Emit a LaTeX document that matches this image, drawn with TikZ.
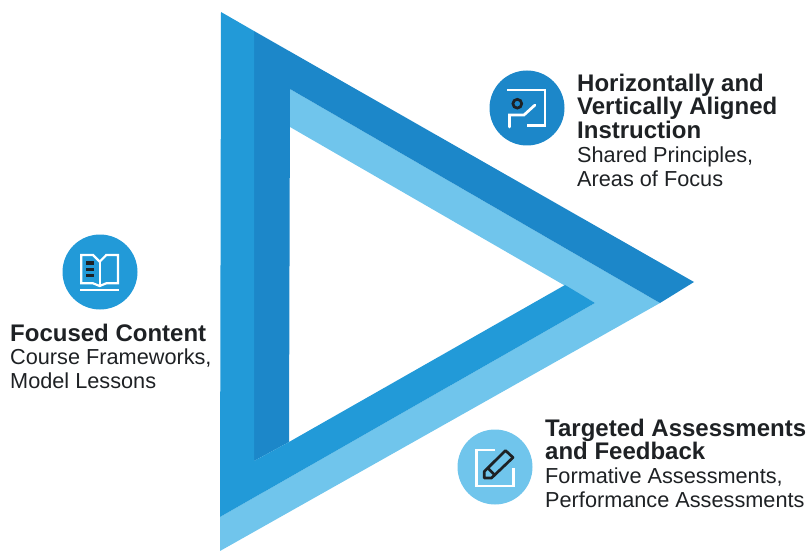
\documentclass[tikz,border=0pt]{standalone}
\usepackage{fontspec}
\setmainfont{Liberation Sans}
\usepackage{xcolor}
\usetikzlibrary{positioning}

\definecolor{bandDark}{HTML}{1C87C9}
\definecolor{bandMid}{HTML}{229AD8}
\definecolor{bandLight}{HTML}{70C5EC}
\definecolor{inkDark}{HTML}{1E2124}

\newcommand{\headline}[1]{{\fontsize{24}{23.8}\selectfont\bfseries #1}}

\begin{document}
\begin{tikzpicture}[
  x=1pt, y=-1pt,
  badge/.style={circle, minimum size=75pt, inner sep=0pt},
  caption/.style={
    anchor=north west,
    align=left,
    inner sep=0pt,
    text=inkDark,
    font=\fontsize{21.7}{23.8}\selectfont
  },
  iconline/.style={white, line width=2.7pt},
  iconink/.style={inkDark, line width=2.7pt}
]
\useasboundingbox (0,0) rectangle (807,551);

% ================= triangle bands =================
\fill[bandLight] (290,89) -- (660,303) -- (220,551) -- (220,517) -- (595,303) -- (290,127) -- cycle;
\fill[bandDark] (254,31) -- (694,282) -- (660,303) -- (290,89) -- (289,442) -- (254,461) -- cycle;
\fill[bandMid] (221,12) -- (254,31) -- (254,461) -- (289,442) -- (565,285) -- (595,303) -- (220,517) -- cycle;

% ================= badges =================
\node[badge, fill=bandMid] (book_badge) at (100,272) {};
\node[badge, fill=bandDark] (switch_badge) at (527,108) {};
\node[badge, fill=bandLight] (pencil_badge) at (495,467) {};

% book icon
\draw[iconline, line width=2.2pt] (99.7,286) -- (93,283.3) -- (81.3,283.3) -- (81.3,255) -- (93,255) -- (99.7,261.7) -- (106.3,255) -- (118,255) -- (118,283.3) -- (106.3,283.3) -- cycle;
\draw[iconline, line width=2.2pt] (99.7,261.7) -- (99.7,286);
\draw[iconline] (80,290) -- (119,290);
\foreach \y in {263,269.3,275.5}
  \draw[iconink, line width=3.2pt] (86,\y) -- (94,\y);

% switch icon
\draw[iconline] (507,90) -- (545,90) -- (545,125.5) -- (527,125.5);
\draw[iconline, line cap=round] (509.5,127) -- (509.5,115) -- (524,115) -- (535,105);
\draw[iconink] (517.3,103.7) circle (4.4);

% pencil icon
\draw[iconline] (494.7,450) -- (476.3,450) -- (476.3,486) -- (513.5,486) -- (513.5,468);
\draw[iconink, line join=round] (484.3,471.5) -- (505.5,450.5) -- (513,457.5) -- (491.5,478) -- (484.3,478) -- cycle;
\draw[iconink] (488,468.3) -- (494.7,475);

% ================= captions =================
\node[caption] (content_text) at (10,323.5)
  {\headline{Focused Content}\\Course Frameworks,\\Model Lessons};

\node[caption] (instruction_text) at (577,73.5)
  {\headline{Horizontally and}\\\headline{Vertically Aligned}\\\headline{Instruction}\\Shared Principles,\\Areas of Focus};

\node[caption] (assessment_text) at (545,418.5)
  {\headline{Targeted Assessments}\\\headline{and Feedback}\\Formative Assessments,\\Performance Assessments};

\end{tikzpicture}
\end{document}
